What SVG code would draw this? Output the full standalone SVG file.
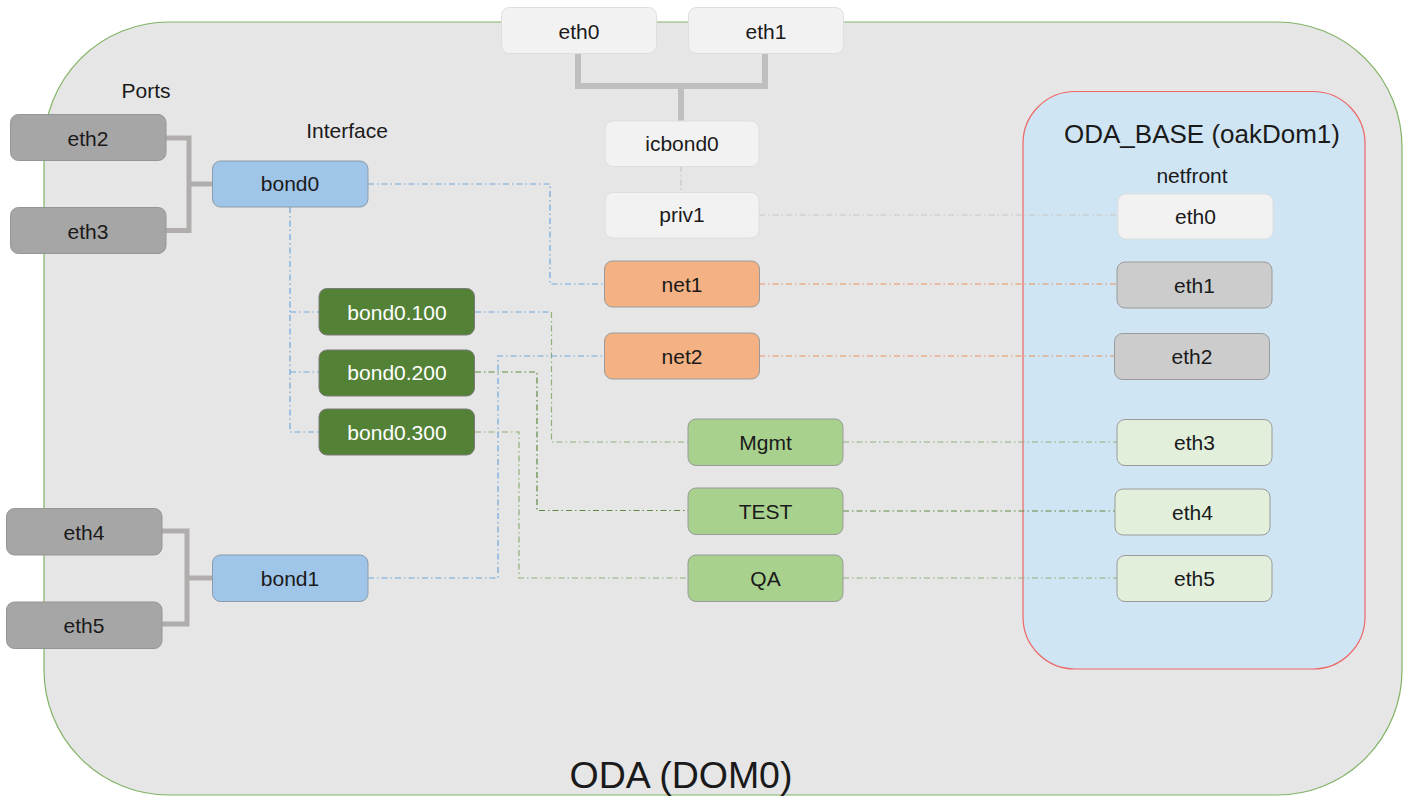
<svg xmlns="http://www.w3.org/2000/svg" width="1412" height="797" viewBox="0 0 1412 797">
<style>
text{font-family:"Liberation Sans",Arial,sans-serif;fill:#1a1a1a;}
.lbl{font-size:21px;text-anchor:middle;}
.w{fill:#ffffff;}
.n{stroke-width:1;}
.light{fill:#f2f2f2;stroke:#dedede;}
.port{fill:#a6a6a6;stroke:#959595;}
.bond{fill:#9fc5e8;stroke:#8c9bab;}
.vlan{fill:#538135;stroke:#7a7a7a;}
.net{fill:#f4b183;stroke:#9a9a9a;}
.grn{fill:#a9d18e;stroke:#9a9a9a;}
.gry{fill:#cccccc;stroke:#9a9a9a;}
.pale{fill:#e2efda;stroke:#9a9a9a;}
.c{fill:none;stroke-width:1.2;stroke-dasharray:6 3 1.5 3;}
.blue{stroke:#6fa8dc;}
.org{stroke:#e8945f;}
.gr{stroke:#8fb07a;}
.dgr{stroke:#5d8a43;}
.gy{stroke:#c6c6c6;}
.thick{fill:none;stroke-linejoin:miter;}
</style>
<g id="dom0">
<rect x="44" y="22" width="1358" height="773" rx="125" ry="125" fill="#e6e6e6" stroke="#82b366" stroke-width="1.2"/>
<text x="681" y="788" style="font-size:37.5px;text-anchor:middle">ODA (DOM0)</text>
</g>
<g id="odabase">
<rect x="1023" y="91.5" width="342" height="577.5" rx="52" ry="52" fill="#cfe5f3" stroke="#ee6666" stroke-width="1.2"/>
<text x="1202" y="142.5" style="font-size:26px;text-anchor:middle">ODA_BASE (oakDom1)</text>
<text x="1192" y="183" class="lbl">netfront</text>
</g>
<text x="146" y="97.5" class="lbl">Ports</text>
<text x="347" y="138" class="lbl">Interface</text>
<g id="connectors">
<path class="thick" stroke="#bfbfbf" stroke-width="6" d="M578,53 V86 H765 V53 M681,86 V121"/>
<path class="thick" stroke="#b1adad" stroke-width="5" d="M166,138 H189 V230.5 H166 M189,184 H212"/>
<path class="thick" stroke="#b1adad" stroke-width="5" d="M162,531 H187 V624 H162 M187,578 H212"/>
<path class="c blue" d="M368,184 H550 V284 H604"/>
<path class="c blue" d="M290,207 V432 H319 M290,312 H319 M290,372 H319"/>
<path class="c blue" d="M475,312 H551.5"/>
<path class="c gr" d="M551.5,312 V442 H688"/>
<path class="c dgr" d="M475,372 H537 V510.5 H688"/>
<path class="c gr" d="M475,432 H519 V578 H688"/>
<path class="c blue" d="M368,578 H498 V356 H604"/>
<path class="c gy" d="M681,166 V192"/>
<path class="c gy" d="M759,215 H1118"/>
<path class="c org" d="M759,284 H1117"/>
<path class="c org" d="M759,356 H1114"/>
<path class="c gr" d="M843,442 H1117"/>
<path class="c dgr" d="M843,511 H1115"/>
<path class="c gr" d="M843,578 H1117"/>
</g>
<g id="top_eth0"><rect class="light" x="501.5" y="7.5" width="155" height="46" rx="8"/><text class="lbl" x="579" y="39">eth0</text></g>
<g id="top_eth1"><rect class="light" x="688.5" y="7.5" width="155" height="46" rx="8"/><text class="lbl" x="766" y="39">eth1</text></g>
<g id="icbond0"><rect class="light" x="605" y="121" width="154" height="45.5" rx="8"/><text class="lbl" x="682" y="151">icbond0</text></g>
<g id="priv1"><rect class="light" x="605" y="192.5" width="154" height="45.5" rx="8"/><text class="lbl" x="682" y="222">priv1</text></g>
<g id="net1"><rect class="net" x="604.5" y="261" width="155" height="46" rx="8"/><text class="lbl" x="682" y="292">net1</text></g>
<g id="net2"><rect class="net" x="604.5" y="333" width="155" height="46" rx="8"/><text class="lbl" x="682" y="364">net2</text></g>
<g id="mgmt"><rect class="grn" x="688" y="419" width="155" height="46.5" rx="8"/><text class="lbl" x="765.5" y="450">Mgmt</text></g>
<g id="test"><rect class="grn" x="688" y="488" width="155" height="46.5" rx="8"/><text class="lbl" x="765.5" y="519">TEST</text></g>
<g id="qa"><rect class="grn" x="688" y="555" width="155" height="46.5" rx="8"/><text class="lbl" x="765.5" y="586">QA</text></g>
<g id="nf_eth0"><rect class="light" x="1118" y="194" width="155" height="45" rx="8"/><text class="lbl" x="1195.5" y="223.5">eth0</text></g>
<g id="nf_eth1"><rect class="gry" x="1117" y="262" width="155" height="46" rx="8"/><text class="lbl" x="1194.5" y="292.5">eth1</text></g>
<g id="nf_eth2"><rect class="gry" x="1114.5" y="333.5" width="155" height="46" rx="8"/><text class="lbl" x="1192" y="364">eth2</text></g>
<g id="nf_eth3"><rect class="pale" x="1117" y="419.5" width="155" height="46" rx="8"/><text class="lbl" x="1194.5" y="450">eth3</text></g>
<g id="nf_eth4"><rect class="pale" x="1115" y="489" width="155" height="46" rx="8"/><text class="lbl" x="1192.5" y="519.5">eth4</text></g>
<g id="nf_eth5"><rect class="pale" x="1117" y="555.5" width="155" height="46" rx="8"/><text class="lbl" x="1194.5" y="586">eth5</text></g>
<g id="p_eth2"><rect class="port" x="10.5" y="114.5" width="155.5" height="46" rx="8"/><text class="lbl" x="88" y="145.5">eth2</text></g>
<g id="p_eth3"><rect class="port" x="10.5" y="207.5" width="155.5" height="46" rx="8"/><text class="lbl" x="88" y="238.5">eth3</text></g>
<g id="bond0"><rect class="bond" x="212.5" y="161" width="155.5" height="46" rx="8"/><text class="lbl" x="290" y="191">bond0</text></g>
<g id="bond0_100"><rect class="vlan" x="319" y="288.5" width="155.5" height="46.5" rx="8"/><text class="lbl w" x="397" y="319.5">bond0.100</text></g>
<g id="bond0_200"><rect class="vlan" x="319" y="350" width="155.5" height="46" rx="8"/><text class="lbl w" x="397" y="380">bond0.200</text></g>
<g id="bond0_300"><rect class="vlan" x="319" y="409" width="155.5" height="46" rx="8"/><text class="lbl w" x="397" y="440">bond0.300</text></g>
<g id="p_eth4"><rect class="port" x="6.5" y="508.5" width="155.5" height="46.5" rx="8"/><text class="lbl" x="84" y="539.5">eth4</text></g>
<g id="p_eth5"><rect class="port" x="6.5" y="602" width="155.5" height="46.5" rx="8"/><text class="lbl" x="84" y="633">eth5</text></g>
<g id="bond1"><rect class="bond" x="212.5" y="555" width="155.5" height="46.5" rx="8"/><text class="lbl" x="290" y="586">bond1</text></g>
</svg>
